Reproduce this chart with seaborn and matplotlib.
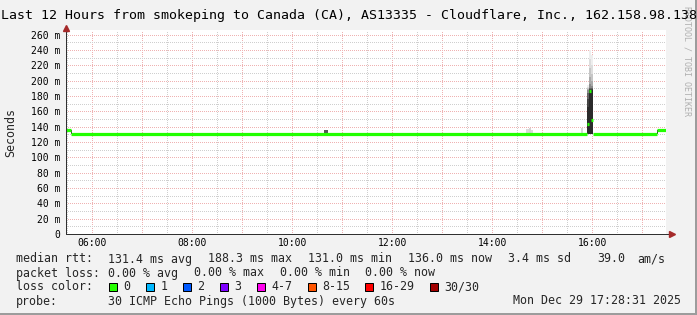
import matplotlib
matplotlib.use("Agg")
import matplotlib.pyplot as plt
from matplotlib.patches import Rectangle
from matplotlib.ticker import MultipleLocator, FixedLocator, FuncFormatter
import numpy as np
import pandas as pd
import seaborn as sns

# ---------------- data ----------------
TITLE = "Last 12 Hours from smokeping to Canada (CA), AS13335 - Cloudflare, Inc., 162.158.98.138"
Y_LABEL = "Seconds"
WATERMARK = "RRDTOOL / TOBI OETIKER"
X_START = "05:28:31"
X_END = "17:28:31"
X_LABEL_HOURS = [6, 8, 10, 12, 14, 16]
Y_MAX = 266

# median rtt (ms), step changes
median_times = ["05:28:31", "05:34:31", "15:53:43", "15:56:07", "15:58:31", "16:00:55", "17:18:07"]
median_ms = [135.5, 131.0, 143.0, 187.0, 148.0, 131.0, 136.0]

# small smoke patches (ms)
smoke_start = ["05:34:31", "10:38:07", "14:40:31", "14:43:45", "14:46:09", "15:46:09", "17:17:43"]
smoke_end = ["05:35:55", "10:42:55", "14:43:45", "14:46:09", "14:48:33", "15:48:33", "17:19:19"]
smoke_low_ms = [131.0, 131.0, 131.0, 131.0, 131.0, 131.0, 131.0]
smoke_high_ms = [135.5, 135.5, 136.5, 138.0, 136.0, 138.0, 136.0]
smoke_tone = ["#454545", "#575757", "#dadada", "#d4d4d4", "#dadada", "#d6d6d6", "#404040"]

# spike around 16:00: smoke layers (outer -> inner) per column
spike_times = ["15:53:43", "15:56:07", "15:58:31", "16:00:55"]
spike_low_ms = 130.5
spike_col1_tops = [194, 192, 190, 189, 188, 184, 176, 166]
spike_col2_tops = [240, 228, 216, 205, 196, 191, 189, 188]
spike_col3_tops = [234, 221, 209, 199, 193, 190, 189, 188]
spike_shades = ["#eeeeee", "#dddddd", "#c6c6c6", "#aaaaaa", "#8a8a8a", "#636363", "#434343", "#2b2b2b"]

# legend
stats_median = ["131.4 ms avg", "188.3 ms max", "131.0 ms min", "136.0 ms now", "3.4 ms sd", "39.0", "am/s"]
stats_loss = ["0.00 % avg", "0.00 % max", "0.00 % min", "0.00 % now"]
loss_labels = ["0", "1", "2", "3", "4-7", "8-15", "16-29", "30/30"]
loss_colors = ["#26ff00", "#00b8ff", "#0059ff", "#7e00ff", "#ff00ee", "#ff5500", "#ff0000", "#a10000"]
probe_text = "30 ICMP Echo Pings (1000 Bytes) every 60s"
stamp_text = "Mon Dec 29 17:28:31 2025"

# ---------------- style ----------------
W, H = 697, 315
BG = "#f2f2f2"
GREEN = "#22ff00"
MGRID = "#efb2b2"
GRID = "#cfcfcf"
AXIS = "#303030"
ARROW = "#a52a2a"
PT = 72.0 / 100.0  # points per pixel

sns.set_style("white")
plt.rcParams["font.family"] = ["DejaVu Sans Mono"]


def hrs(s):
    h, m, sec = map(int, s.split(":"))
    return h + m / 60 + sec / 3600


def P(x, y):
    return x / W, 1 - y / H


fig = plt.figure(figsize=(W / 100, H / 100), dpi=100, facecolor=BG)
ax = fig.add_axes([66 / W, (H - 234) / H, 600 / W, 204 / H])
ax.set_facecolor("white")

x0, x1 = hrs(X_START), hrs(X_END)

# smoke patches
for s, e, lo, hi, c in zip(smoke_start, smoke_end, smoke_low_ms, smoke_high_ms, smoke_tone):
    ax.fill_between([hrs(s), hrs(e)], lo, hi, color=c, lw=0, zorder=2)

# spike smoke
st = [hrs(s) for s in spike_times]
cols = [spike_col1_tops, spike_col2_tops, spike_col3_tops]
for j, shade in enumerate(spike_shades):
    tops = [c[j] for c in cols]
    ax.fill_between(st, spike_low_ms, tops + [tops[-1]], step="post", color=shade, lw=0, zorder=2)

# median as horizontal dashes (no vertical connectors)
mt = [hrs(s) for s in median_times] + [x1]
rows = []
for i, v in enumerate(median_ms):
    rows.append((i, mt[i], v))
    rows.append((i, mt[i + 1], v))
df = pd.DataFrame(rows, columns=["seg", "t", "ms"])
sns.lineplot(data=df, x="t", y="ms", units="seg", estimator=None, sort=False,
             color=GREEN, linewidth=3.2 * PT, solid_capstyle="butt", ax=ax,
             legend=False, zorder=4)

ax.set_xlim(x0, x1)
ax.set_ylim(0, Y_MAX)
ax.set_xlabel("")
ax.set_ylabel("")

ax.xaxis.set_major_locator(FixedLocator(list(range(6, 18))))
ax.xaxis.set_minor_locator(FixedLocator(list(np.arange(5.5, 17.0, 1.0))))
ax.xaxis.set_major_formatter(FuncFormatter(
    lambda v, p: f"{int(round(v)):02d}:00" if int(round(v)) in X_LABEL_HOURS else ""))
ax.yaxis.set_major_locator(MultipleLocator(20))
ax.yaxis.set_minor_locator(MultipleLocator(10))
ax.yaxis.set_major_formatter(FuncFormatter(lambda v, p: "0" if v == 0 else f"{int(v)} m"))

dots = (0, (1, 1.6))
ax.set_axisbelow(True)
ax.grid(True, which="major", color=MGRID, linestyle=dots, linewidth=PT, antialiased=False)
ax.grid(True, which="minor", color=GRID, linestyle=dots, linewidth=PT, antialiased=False)

ax.tick_params(axis="x", which="major", length=3 * PT, width=PT, color=MGRID,
               pad=0.6, labelsize=7, labelcolor="black")
ax.tick_params(axis="x", which="minor", length=0)
ax.tick_params(axis="y", which="both", length=0, pad=4.3, labelsize=7, labelcolor="black")

for sp in ax.spines.values():
    sp.set_visible(False)

# axes with arrows
ax.plot([0, 1.01], [0, 0], color=AXIS, lw=PT, transform=ax.transAxes, clip_on=False, zorder=6)
ax.plot([0, 0], [0, 1.012], color=AXIS, lw=PT, transform=ax.transAxes, clip_on=False, zorder=6)
ax.plot([1.01], [0], marker=">", ms=4, color=ARROW, mec=ARROW, transform=ax.transAxes,
        clip_on=False, zorder=7)
ax.plot([0], [1.012], marker="^", ms=4, color=ARROW, mec=ARROW, transform=ax.transAxes,
        clip_on=False, zorder=7)

# texts
fig.text(*P(687, 61), WATERMARK, rotation=270, ha="center", va="center",
         fontsize=6, color="#b0b0b0")
fig.text(*P(349, 18.5), TITLE, ha="center", va="baseline", fontsize=9.5, color="black")
fig.text(*P(11, 132.5), Y_LABEL, rotation=90, ha="center", va="center", fontsize=8.4)

LF = 8.4
b1, b2, b3, b4 = 262.5, 276.5, 290.5, 304.5
fig.text(*P(16, b1), "median rtt:", fontsize=LF, va="baseline")
for txt, x in zip(stats_median, [108, 208, 307.5, 408, 508, 597, 637]):
    fig.text(*P(x, b1), txt, fontsize=LF, va="baseline")
fig.text(*P(16, b2), "packet loss:", fontsize=LF, va="baseline")
for txt, x in zip(stats_loss, [108, 194, 279.5, 365]):
    fig.text(*P(x, b2), txt, fontsize=LF, va="baseline")
fig.text(*P(16, b3), "loss color:", fontsize=LF, va="baseline")
for lab, col, x in zip(loss_labels, loss_colors, [109, 146, 183, 220, 257, 307.5, 365, 430]):
    fig.patches.append(Rectangle(P(x, 291), 8 / W, 8 / H, transform=fig.transFigure,
                                 facecolor=col, edgecolor="black", lw=PT))
    fig.text(*P(x + 14.5, b3), lab, fontsize=LF, va="baseline")
fig.text(*P(16, b4), "probe:", fontsize=LF, va="baseline")
fig.text(*P(108, b4), probe_text, fontsize=LF, va="baseline")
fig.text(*P(681, b4), stamp_text, fontsize=LF, va="baseline", ha="right")

# frame shading
fig.patches.append(Rectangle(P(695, 315), 2 / W, 1, transform=fig.transFigure,
                             facecolor="#9c9c9c", lw=0))
fig.patches.append(Rectangle(P(0, 315), 1, 2 / H, transform=fig.transFigure,
                             facecolor="#9c9c9c", lw=0))

fig.savefig("out.png", dpi=100, facecolor=BG)
